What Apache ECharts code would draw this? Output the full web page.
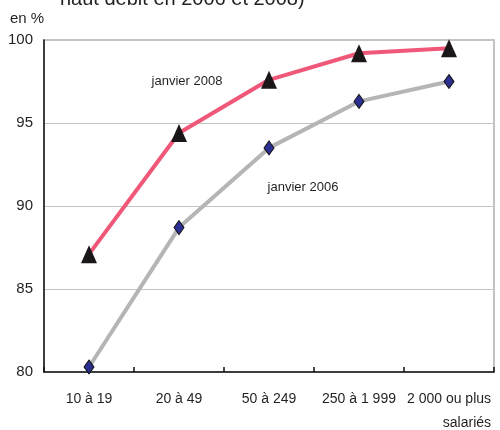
<!DOCTYPE html>
<html>
<head>
<meta charset="utf-8">
<script src="https://cdn.jsdelivr.net/npm/echarts@6/dist/echarts.min.js"></script>
<style>
  html, body { margin: 0; padding: 0; background: #fff; }
  #chart { width: 500px; height: 430px; }
</style>
</head>
<body>
<div id="chart"></div>
<script>
// Taille d'entreprise (en nombre de salariés)
var categories = ['10 à 19', '20 à 49', '50 à 249', '250 à 1 999', '2 000 ou plus\nsalariés'];
// Part des entreprises connectées en haut débit (en %)
var janvier2008 = [87.1, 94.4, 97.6, 99.2, 99.5];
var janvier2006 = [80.3, 88.7, 93.5, 96.3, 97.5];
var yTicks = [80, 85, 90, 95, 100];

var FONT = '"Liberation Sans", Arial, sans-serif';
var TEXT = '#231f20';

var chart = echarts.init(document.getElementById('chart'), null, { renderer: 'canvas' });

chart.setOption({
  animation: false,
  backgroundColor: '#ffffff',
  grid: {
    left: 44, right: 6, top: 40, bottom: 56,
    show: true, borderColor: '#b0b0b0', borderWidth: 1.5
  },
  xAxis: {
    type: 'category',
    data: categories,
    boundaryGap: true,
    axisLine: { lineStyle: { color: '#111', width: 1.5 } },
    axisTick: { show: true, inside: true, length: 5, interval: 0, lineStyle: { color: '#111', width: 1.5 } },
    axisLabel: {
      interval: 0,
      hideOverlap: false,
      margin: 15,
      color: TEXT,
      fontFamily: FONT,
      fontSize: 14,
      formatter: function (v) {
        var parts = v.split('\n');
        if (parts.length > 1) {
          return '{a|' + parts[0] + '}\n{b|' + parts[1] + '}';
        }
        return '{a|' + v + '}';
      },
      rich: {
        a: { fontSize: 14, fontFamily: FONT, color: TEXT, lineHeight: 24 },
        b: { fontSize: 14, fontFamily: FONT, color: TEXT, lineHeight: 24, align: 'right' }
      }
    },
    splitLine: { show: false }
  },
  yAxis: {
    type: 'value',
    min: yTicks[0],
    max: yTicks[yTicks.length - 1],
    interval: yTicks[1] - yTicks[0],
    axisLine: { show: true, lineStyle: { color: '#111', width: 1.5 } },
    axisTick: { show: false },
    axisLabel: { margin: 11, color: TEXT, fontFamily: FONT, fontSize: 15 },
    splitLine: { show: true, lineStyle: { color: '#c4c4c4', width: 1.2 } }
  },
  series: [
    {
      name: 'janvier 2006',
      type: 'line',
      data: janvier2006,
      lineStyle: { color: '#b5b5b5', width: 4 },
      symbol: 'diamond',
      symbolSize: [10, 14],
      itemStyle: { color: '#2b2f8f', borderColor: '#111', borderWidth: 1 },
      z: 2
    },
    {
      name: 'janvier 2008',
      type: 'line',
      data: janvier2008,
      lineStyle: { color: '#ef5878', width: 4 },
      symbol: 'triangle',
      symbolSize: [16, 18],
      itemStyle: { color: '#1b1718', borderWidth: 0 },
      z: 3
    }
  ],
  graphic: [
    {
      type: 'text', left: 60, top: -11,
      style: { text: 'haut débit en 2006 et 2008)', font: '20px ' + FONT, fill: TEXT }
    },
    {
      type: 'text', left: 10, top: 11,
      style: { text: 'en %', font: '15px ' + FONT, fill: TEXT }
    },
    {
      type: 'text', x: 187, y: 81,
      style: { text: 'janvier 2008', font: '13px ' + FONT, fill: TEXT, align: 'center', verticalAlign: 'middle' }
    },
    {
      type: 'text', x: 303, y: 187,
      style: { text: 'janvier 2006', font: '13px ' + FONT, fill: TEXT, align: 'center', verticalAlign: 'middle' }
    }
  ]
});
</script>
</body>
</html>
